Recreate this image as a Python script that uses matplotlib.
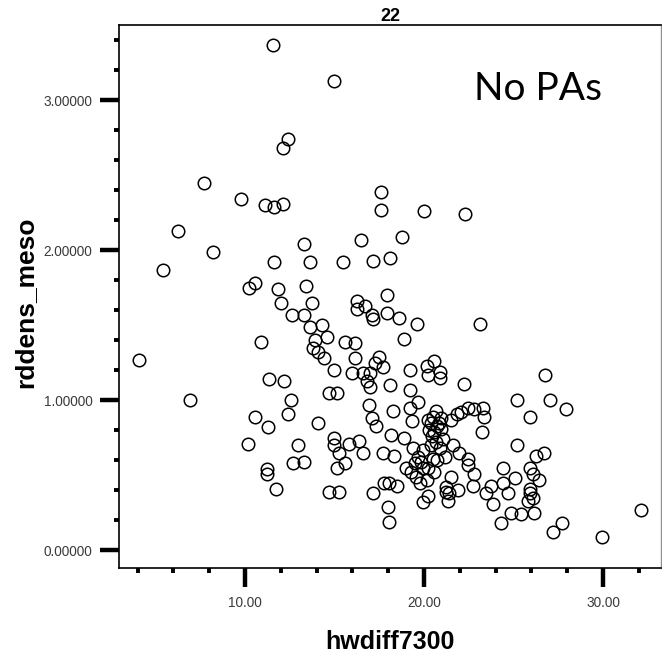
import matplotlib
matplotlib.use("Agg")
import matplotlib.pyplot as plt
from matplotlib.ticker import MultipleLocator

# values (hwdiff7300 vs rddens_meso)
hwdiff7300 = [
    11.56, 14.97, 12.40, 12.12, 7.71, 9.78, 11.12, 11.62, 12.12, 6.26,
    8.21, 5.42, 13.30, 11.62, 13.63, 10.22, 10.56, 11.84, 13.41, 12.01,
    13.74, 12.63, 13.30, 13.63, 14.30, 17.60, 17.60, 20.00, 22.29, 18.77,
    16.48, 15.47, 17.15, 18.10, 17.93, 16.26, 16.26, 16.70, 17.09, 17.15,
    17.93, 18.60, 19.61, 23.13, 10.89, 13.91, 14.58, 13.80, 14.08, 14.41,
    14.97, 11.34, 12.18, 15.59, 16.15, 18.88, 16.15, 17.49, 17.26, 17.71,
    15.98, 16.59, 16.98, 16.82, 19.22, 20.17, 20.56, 20.89, 20.89, 20.22,
    18.10, 26.76, 22.23, 16.98, 19.22, 19.66, 25.20, 27.04, 27.93, 25.92,
    16.93, 18.27, 19.22, 17.09, 17.32, 19.33, 20.67, 20.50, 20.39, 20.84,
    20.95, 20.56, 21.50, 21.84, 22.07, 22.46, 22.79, 23.30, 23.35, 23.24,
    18.16, 18.88, 16.37, 15.81, 14.97, 14.97, 15.25, 16.59, 17.71, 18.32,
    19.39, 19.94, 20.39, 20.67, 21.62, 21.96, 22.46, 19.66, 19.83, 20.50,
    20.73, 18.99, 19.27, 19.55, 19.94, 20.22, 20.56, 21.51, 22.79, 23.74,
    23.46, 23.85, 21.23, 21.23, 21.40, 21.90, 21.34, 20.22, 19.94, 17.99,
    18.04, 17.15, 17.77, 18.04, 18.49, 15.25, 14.69, 24.41, 25.08, 24.41,
    24.69, 24.30, 24.86, 25.42, 26.15, 25.20, 25.92, 26.09, 26.42, 26.26,
    26.70, 25.92, 26.09, 25.81, 27.21, 27.71, 29.94, 32.12, 4.08, 6.93,
    12.57, 12.40, 10.56, 11.28, 10.17, 12.96, 14.08, 14.69, 15.14, 15.14,
    15.59, 12.68, 13.30, 11.23, 11.23, 11.73, 20.22, 20.89, 19.77, 20.17,
    22.46, 22.74, 25.92, 20.73, 20.45, 20.95, 21.05, 20.30, 19.50, 21.20,
]
rddens_meso = [
    3.37, 3.13, 2.74, 2.68, 2.45, 2.34, 2.30, 2.29, 2.31, 2.13,
    1.99, 1.87, 2.04, 1.92, 1.92, 1.75, 1.78, 1.74, 1.76, 1.65,
    1.65, 1.57, 1.57, 1.49, 1.50, 2.39, 2.27, 2.26, 2.24, 2.09,
    2.07, 1.92, 1.93, 1.95, 1.70, 1.66, 1.61, 1.63, 1.57, 1.54,
    1.58, 1.55, 1.51, 1.51, 1.39, 1.40, 1.42, 1.35, 1.32, 1.28,
    1.20, 1.14, 1.13, 1.39, 1.38, 1.41, 1.28, 1.29, 1.25, 1.22,
    1.18, 1.18, 1.18, 1.13, 1.20, 1.23, 1.26, 1.19, 1.15, 1.17,
    1.10, 1.17, 1.11, 1.09, 1.07, 0.99, 1.00, 1.00, 0.94, 0.89,
    0.97, 0.93, 0.95, 0.88, 0.83, 0.86, 0.93, 0.89, 0.85, 0.85,
    0.81, 0.79, 0.87, 0.91, 0.92, 0.95, 0.94, 0.95, 0.89, 0.79,
    0.77, 0.75, 0.73, 0.71, 0.75, 0.70, 0.65, 0.65, 0.65, 0.63,
    0.68, 0.67, 0.70, 0.72, 0.70, 0.65, 0.61, 0.62, 0.59, 0.61,
    0.60, 0.55, 0.52, 0.49, 0.55, 0.55, 0.52, 0.49, 0.51, 0.43,
    0.38, 0.31, 0.42, 0.39, 0.38, 0.40, 0.33, 0.36, 0.32, 0.29,
    0.19, 0.38, 0.45, 0.45, 0.43, 0.39, 0.39, 0.55, 0.48, 0.45,
    0.38, 0.18, 0.25, 0.24, 0.25, 0.70, 0.55, 0.51, 0.47, 0.63,
    0.65, 0.38, 0.35, 0.33, 0.12, 0.18, 0.09, 0.27, 1.27, 1.00,
    1.00, 0.91, 0.89, 0.82, 0.71, 0.70, 0.85, 1.05, 1.05, 0.55,
    0.58, 0.58, 0.59, 0.54, 0.51, 0.41, 0.87, 0.68, 0.45, 0.47,
    0.57, 0.43, 0.41, 0.83, 0.76, 0.88, 0.74, 0.80, 0.58, 0.62,
]

x_major = [10, 20, 30]
x_labels = ["10.00", "20.00", "30.00"]
y_major = [0, 1, 2, 3]
y_labels = ["0.00000", "1.00000", "2.00000", "3.00000"]

plt.rcParams["font.family"] = ["Liberation Sans", "DejaVu Sans"]

fig = plt.figure(figsize=(6.62, 6.56), dpi=100)
ax = fig.add_axes([119 / 662, 88 / 656, 542 / 662, 543 / 656])

ax.plot(hwdiff7300, rddens_meso, "o", ls="none", mfc="none", mec="black",
        ms=9, mew=1.1)

ax.set_xlim(2.96, 33.24)
ax.set_ylim(-0.12, 3.5)

ax.set_xticks(x_major)
ax.set_xticklabels(x_labels)
ax.set_yticks(y_major)
ax.set_yticklabels(y_labels)
ax.xaxis.set_minor_locator(MultipleLocator(2))
ax.yaxis.set_minor_locator(MultipleLocator(0.2))

ax.tick_params(which="major", direction="out", length=14, width=3.2,
               labelsize=9.8, labelcolor="#3a3a3a")
ax.tick_params(which="minor", direction="out", length=3.6, width=2.8)
ax.tick_params(axis="x", which="major", pad=6)
ax.tick_params(axis="y", which="major", pad=5)

for side in ["left", "bottom", "top"]:
    ax.spines[side].set_linewidth(1.2)
    ax.spines[side].set_color("black")
ax.spines["right"].set_linewidth(1.0)
ax.spines["right"].set_color("#909090")

ax.set_xlabel("hwdiff7300", fontsize=18, fontweight="bold")
ax.set_ylabel("rddens_meso", fontsize=19, fontweight="bold")
ax.xaxis.set_label_coords(0.5, -0.114)
ax.yaxis.set_label_coords(-0.151, 0.49)

ax.set_title("22", fontsize=13, fontweight="bold", pad=3)

ax.text(0.655, 0.862, "No PAs", transform=ax.transAxes, fontsize=28,
        family="Lato", ha="left", va="baseline")

fig.savefig("out.png", dpi=100)
